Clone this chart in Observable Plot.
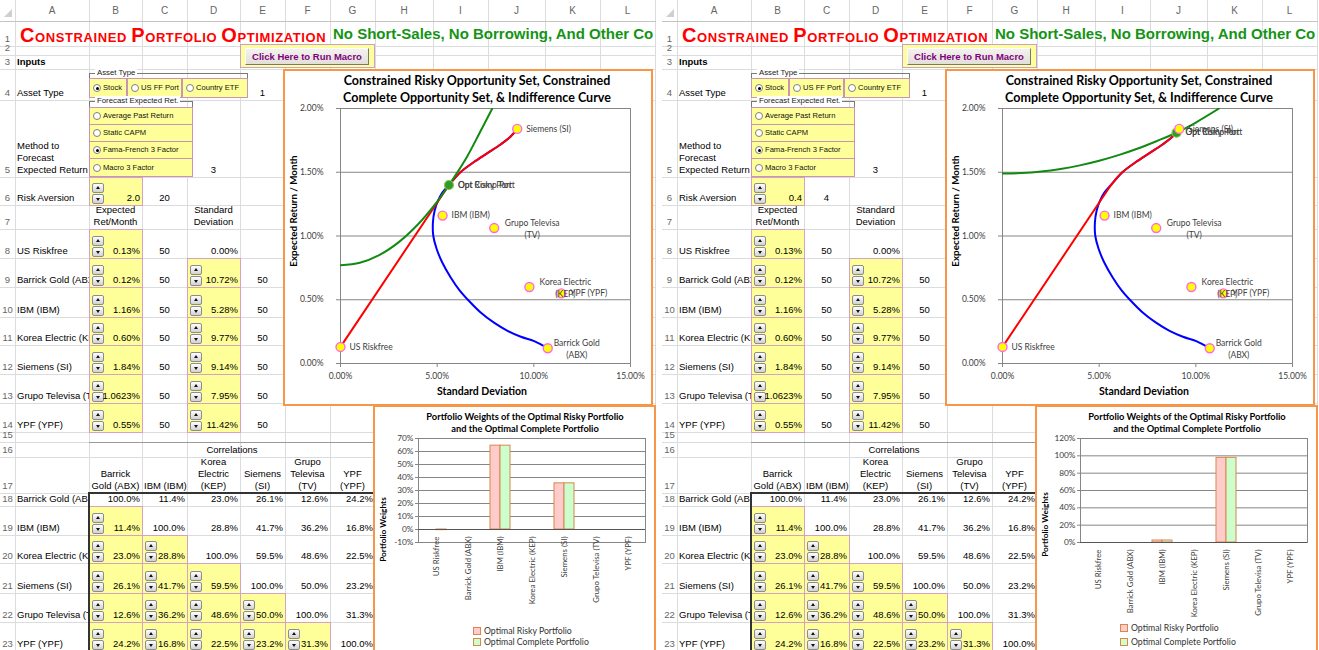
<!DOCTYPE html>
<html><head><meta charset="utf-8">
<script src="https://cdn.jsdelivr.net/npm/d3@7"></script>
<script src="https://cdn.jsdelivr.net/npm/@observablehq/plot@0.6"></script>
<style>
html,body{margin:0;padding:0;background:#fff}
body{width:1319px;height:650px;overflow:hidden;position:relative;font-family:"Liberation Sans",Arial,sans-serif}
.panel{position:absolute;top:0;height:650px;overflow:hidden;background:#fff}
.gv{position:absolute;width:1px;background:#dadcdd}
.gh{position:absolute;height:1px;background:#dadcdd}
.hdr{position:absolute;font-size:10px;color:#666;text-align:center;line-height:12px}
.rn{position:absolute;left:0;width:15px;font-size:9.5px;color:#666;text-align:center;display:flex;flex-direction:column;justify-content:flex-end;line-height:12px;box-sizing:border-box;padding-bottom:1px}
.cell{position:absolute;box-sizing:border-box;display:flex;flex-direction:column;justify-content:flex-end;font-size:9.5px;line-height:12px;color:#000;white-space:pre;padding:0 2px 1px 2px}
.yel{position:absolute;box-sizing:border-box;background:#ffff99;border:1px solid #d6a2c2}
.sp{position:absolute;width:12px;height:10px;box-sizing:border-box;border:1px solid #8c8c8c;border-radius:2px;background:linear-gradient(#fefefe,#d2d2d2)}
.sp::after{content:"";position:absolute;left:2.5px;width:0;height:0;border-left:2.5px solid transparent;border-right:2.5px solid transparent}
.sp.up::after{top:2px;border-bottom:3px solid #111}
.sp.dn::after{top:3px;border-top:3px solid #111}
.frame{position:absolute;box-sizing:border-box;border:1px solid #7a7a7a}
.flab{position:absolute;font-size:7.8px;line-height:10px;background:#fff;padding:0 2px;color:#222;white-space:nowrap}
.opt{position:absolute;box-sizing:border-box;background:#ffff99;border:1px solid #c896b4;font-size:7.6px;line-height:10px;white-space:nowrap;display:flex;align-items:center;padding-left:13px;color:#111;overflow:hidden}
.rb{position:absolute;left:3px;top:50%;margin-top:-4px;width:8px;height:8px;border-radius:50%;border:1px solid #808080;background:#fff;box-sizing:border-box}
.rb.on::after{content:"";position:absolute;left:1.5px;top:1.5px;width:3px;height:3px;border-radius:50%;background:#000}
.chartbox{position:absolute;box-sizing:border-box;border:2px solid #f79646;background:#fff;overflow:hidden}
.ct{position:absolute;text-align:center;font-family:Lato,"Open Sans",sans-serif;font-weight:bold;color:#000;white-space:pre}
.lg{position:absolute;font-family:Lato,"Open Sans",sans-serif;font-size:8.7px;line-height:10px;color:#333;white-space:nowrap}
.lg i{display:inline-block;width:6px;height:6px;border:1px solid #d9864f;margin-right:3px;vertical-align:-1px}
</style>
</head><body>
<script>
// ---------------- data ----------------
const assets = ["US Riskfree","Barrick Gold (ABX)","IBM (IBM)","Korea Electric (KEP)","Siemens (SI)","Grupo Televisa (TV)","YPF (YPF)"];
const expRetPct = [0.13,0.12,1.16,0.60,1.84,1.0623,0.55];
const stdDevPct = [0.00,10.72,5.28,9.77,9.14,7.95,11.42];
const expRetText = ["0.13%","0.12%","1.16%","0.60%","1.84%","1.0623%","0.55%"];
const stdDevText = ["0.00%","10.72%","5.28%","9.77%","9.14%","7.95%","11.42%"];
const expRetSpin = [50,50,50,50,50,50,50];
const stdDevSpin = [null,50,50,50,50,50,50];
const assetTypes = ["Stock","US FF Port","Country ETF"];
const assetTypeChoice = 1;
const forecastMethods = ["Average Past Return","Static CAPM","Fama-French 3 Factor","Macro 3 Factor"];
const forecastChoice = 3;
const riskAversionText = ["2.0","0.4"];
const riskAversionSpin = [20,4];
const corrHeaders = ["Barrick\nGold (ABX)","IBM (IBM)","Korea\nElectric\n(KEP)","Siemens\n(SI)","Grupo\nTelevisa\n(TV)","YPF\n(YPF)"];
const corrPct = [
  [100.0,11.4,23.0,26.1,12.6,24.2],
  [11.4,100.0,28.8,41.7,36.2,16.8],
  [23.0,28.8,100.0,59.5,48.6,22.5],
  [26.1,41.7,59.5,100.0,50.0,23.2],
  [12.6,36.2,48.6,50.0,100.0,31.3],
  [24.2,16.8,22.5,23.2,31.3,100.0]];
// constrained risky frontier (std dev %, expected return %), ABX -> Siemens
const frontierSD = [10.72,10.02,9.33,8.64,7.94,7.25,6.65,6.13,5.70,5.27,4.97,4.80,4.78,4.87,5.04,5.27,5.61,6.2,6.9,7.6,8.3,8.8,9.14];
const frontierER = [0.12,0.175,0.21,0.256,0.32,0.40,0.49,0.58,0.675,0.79,0.90,1.00,1.106,1.20,1.276,1.34,1.40,1.50,1.58,1.65,1.72,1.78,1.84];
const tangencyIndex = 16;
// indifference curves
const greenLeftSD = [0,1,2,3,4,5,5.61,6.5,7.2,7.85];
const greenLeftER = [0.77,0.79,0.85,0.95,1.09,1.27,1.40,1.61,1.81,2.0];
const greenRightSD = [0,1,2,3,4,5,6,7,8,9,10,11.2];
const greenRightER = [1.49,1.494,1.506,1.526,1.554,1.59,1.634,1.686,1.746,1.81,1.89,2.0];
const optLeft = [5.61,1.40];
const optRight = [9.0,1.81];
// portfolio weights (%)
const weightsRiskyLeft = [0,0,64.5,0,35.5,0,0];
const weightsCompleteLeft = [-0.5,0,64.5,0,35.5,0,0];
const weightsRiskyRight = [0,0,2.3,0,97.7,0,0];
const weightsCompleteRight = [0,0,2.3,0,97.7,0,0];
const weightTicksLeft = [-10,0,10,20,30,40,50,60,70];
const weightTicksRight = [0,20,40,60,80,100,120];
const retTicks = [0,0.5,1,1.5,2];
const sdTicks = [0,5,10,15];

// ---------------- layout ----------------
const colNames = ["A","B","C","D","E","F","G","H","I","J","K","L"];
const colEdges = [0,15,89,142,187,240,285,330,375,433,488,545,600,655];
const rowEdges = [0,21,46,55,69,100,177,205,229,258,287,317,345,374,403,432,442,457,493,506,535,563,593,622,651];
const L = c => colEdges[colNames.indexOf(c)+1];
const R = c => colEdges[colNames.indexOf(c)+2];
const T = r => rowEdges[r];
const B = r => rowEdges[r+1];
const px = v => v + "px";

function el(parent, cls, style, html){
  const d = document.createElement("div");
  if (cls) d.className = cls;
  Object.assign(d.style, style||{});
  if (html != null) d.innerHTML = html;
  parent.appendChild(d);
  return d;
}
function cellAt(p,x,y,w,h,text,o={}){
  const d = el(p,"cell",{left:px(x),top:px(y),width:px(w),height:px(h),textAlign:o.align||"left"});
  if (o.bold) d.style.fontWeight="bold";
  if (o.clip) d.style.overflow="hidden";
  d.textContent = text;
  return d;
}
function cell(p,c,r,text,o={}){
  const c2=o.c2||c, r2=o.r2||r;
  return cellAt(p,L(c),T(r),R(c2)-L(c),B(r2)-T(r),text,o);
}
function spinCell(p,c,r,text){
  const x=L(c), y=T(r), w=R(c)-x, h=B(r)-y;
  el(p,"yel",{left:px(x),top:px(y),width:px(w+1),height:px(h+1)});
  el(p,"sp up",{left:px(x+3),top:px(y+h-22)});
  el(p,"sp dn",{left:px(x+3),top:px(y+h-11)});
  cellAt(p,x,y,w,h,text,{align:"right"});
}

function bigChart(v){
  const pts = assets.map((name,i)=>({name, sd:stdDevPct[i], er:expRetPct[i]}));
  const frontier = frontierSD.map((sd,i)=>({sd, er:frontierER[i]}));
  const upper = frontier.slice(tangencyIndex);
  const cal = [{sd:stdDevPct[0], er:expRetPct[0]}, frontier[tangencyIndex]];
  const gSD = v ? greenRightSD : greenLeftSD, gER = v ? greenRightER : greenLeftER;
  const green = gSD.map((sd,i)=>({sd, er:gER[i]}));
  const o = v ? optRight : optLeft;
  const optPts = [{name:"Opt Risky Port", sd:o[0], er:o[1]},{name:"Opt Comp Port", sd:o[0], er:o[1]}];
  const wrapped = {"Grupo Televisa (TV)":["Grupo Televisa\n(TV)",38],"Korea Electric (KEP)":["Korea Electric\n(KEP)",36],"Barrick Gold (ABX)":["Barrick Gold\n(ABX)",29]};
  const single = pts.filter(d=>!wrapped[d.name]);
  const lab = {fill:"#404040", fontSize:8.5};
  return Plot.plot({
    width:366, height:333, marginLeft:55, marginRight:21, marginTop:37, marginBottom:41,
    style:{fontFamily:"Lato, 'Open Sans', sans-serif", fontSize:"8.5px", color:"#404040", background:"none"},
    x:{domain:[0,15], label:null},
    y:{domain:[0,2], label:null},
    marks:[
      Plot.gridY(retTicks.slice(1),{stroke:"#868686", strokeOpacity:1}),
      Plot.frame({stroke:"#868686"}),
      Plot.axisX(sdTicks,{tickFormat:d=>d.toFixed(2)+"%", tickSize:4, tickPadding:5, stroke:"#868686"}),
      Plot.axisY(retTicks,{tickFormat:d=>d.toFixed(2)+"%", tickSize:4, tickPadding:13, stroke:"#868686"}),
      Plot.line(frontier,{x:"sd", y:"er", stroke:"#0000ff", strokeWidth:2, curve:"catmull-rom"}),
      Plot.line(cal,{x:"sd", y:"er", stroke:"#ff0000", strokeWidth:2}),
      Plot.line(upper,{x:"sd", y:"er", stroke:"#ff0000", strokeWidth:2, curve:"catmull-rom"}),
      Plot.line(green,{x:"sd", y:"er", stroke:"#128a12", strokeWidth:2, curve:"catmull-rom", clip:true}),
      Plot.dot(optPts.slice(0,1),{x:"sd", y:"er", r:4.5, fill:"#2f9a2f", stroke:"#8cc63f", strokeWidth:1.2}),
      Plot.dot(pts,{x:"sd", y:"er", r:4.5, fill:"#ffff00", stroke:"#ff66ee", strokeWidth:1.4}),
      Plot.text(single,{x:"sd", y:"er", text:"name", dx:9, textAnchor:"start", ...lab}),
      Plot.text(optPts,{x:"sd", y:"er", text:"name", dx:9, textAnchor:"start", ...lab}),
      ...Object.entries(wrapped).map(([name,[t,dx]]) =>
        Plot.text(pts.filter(d=>d.name===name),{x:"sd", y:"er", text:()=>t, dx, textAnchor:"middle", lineHeight:1.45, ...lab}))
    ]
  });
}

function barChart(v){
  const risky = v ? weightsRiskyRight : weightsRiskyLeft;
  const complete = v ? weightsCompleteRight : weightsCompleteLeft;
  const ticks = v ? weightTicksRight : weightTicksLeft;
  const data = assets.map((cat,i)=>({cat, risky:risky[i], complete:complete[i]}));
  return Plot.plot({
    width:278, height:243, marginLeft:43, marginRight:8, marginTop:31, marginBottom:108,
    style:{fontFamily:"Lato, 'Open Sans', sans-serif", fontSize:"8.3px", color:"#404040", background:"none"},
    x:{domain:assets, padding:0, axis:null, label:null},
    y:{domain:[ticks[0], ticks[ticks.length-1]], label:null},
    marks:[
      Plot.gridY(ticks,{stroke:"#868686", strokeOpacity:1}),
      Plot.frame({stroke:"#868686"}),
      Plot.axisY(ticks,{tickFormat:d=>d+"%", tickSize:3, tickPadding:2, stroke:"#868686"}),
      Plot.barY(data.filter(d=>d.risky!==0),{x:"cat", y:"risky", fill:"#ffcccc", stroke:"#d9864f", insetLeft:6, insetRight:16}),
      Plot.barY(data.filter(d=>d.complete!==0),{x:"cat", y:"complete", fill:"#ccffcc", stroke:"#d9864f", insetLeft:16, insetRight:6}),
      Plot.ruleY([0],{stroke:"#555"}),
      Plot.text(data,{x:"cat", y:0, text:"cat", rotate:-90, textAnchor:"end", dy:7, fill:"#404040", fontSize:7.8})
    ]
  });
}

function buildPanel(p, v){
  // gridlines
  for (let i=1;i<colEdges.length;i++) el(p,"gv",{left:px(colEdges[i]),top:"0px",height:"651px"});
  for (let i=1;i<rowEdges.length;i++) el(p,"gh",{left:"0px",top:px(rowEdges[i]),width:"656px",background:i===1?"#c4c4c4":"#dadcdd"});
  el(p,"",{position:"absolute",left:"4px",top:"9px",width:"0",height:"0",borderLeft:"8px solid transparent",borderBottom:"8px solid #cfcfcf"});
  colNames.forEach(c=>el(p,"hdr",{left:px(L(c)),top:"5px",width:px(R(c)-L(c))},c));
  for (let r=1;r<=23;r++) el(p,"rn",{top:px(T(r)),height:px(B(r)-T(r))},String(r));

  // title row
  el(p,"",{position:"absolute",left:"20px",top:"25px",fontWeight:"bold",color:"#ff0000",fontSize:"13px",letterSpacing:"0.6px",whiteSpace:"nowrap",lineHeight:"20px"},
    '<span style="font-size:20px">C</span>ONSTRAINED <span style="font-size:20px">P</span>ORTFOLIO <span style="font-size:20px">O</span>PTIMIZATION');
  el(p,"",{position:"absolute",left:"333px",top:"25px",fontWeight:"bold",color:"#149414",fontSize:"15px",whiteSpace:"nowrap",lineHeight:"18px"},
    "No Short-Sales, No Borrowing, And Other Co");
  // macro button
  el(p,"",{position:"absolute",left:"240px",top:"44px",width:"135px",height:"24px",boxSizing:"border-box",background:"#ffff99",border:"1px solid #c8a0c8"});
  el(p,"",{position:"absolute",left:"245px",top:"48px",width:"124px",height:"17px",boxSizing:"border-box",background:"linear-gradient(#f4f2ee,#e2dfd8)",
    borderTop:"1px solid #fff",borderLeft:"1px solid #fff",borderRight:"1px solid #777",borderBottom:"1px solid #777",color:"#800080",fontWeight:"bold",fontSize:"9.5px",textAlign:"center",lineHeight:"15px"},
    "Click Here to Run Macro");

  cell(p,"A",3,"Inputs",{bold:true});
  cell(p,"A",4,"Asset Type",{clip:true});
  cell(p,"A",5,"Method to\nForecast\nExpected Return",{clip:true});
  cell(p,"A",6,"Risk Aversion",{clip:true});

  // asset type group
  el(p,"frame",{left:"89px",top:"73px",width:"159px",height:"25px"});
  el(p,"flab",{left:"95px",top:"68px"},"Asset Type");
  const atX = [[89,127],[127,182],[182,248]];
  assetTypes.forEach((t,i)=>{
    const d = el(p,"opt",{left:px(atX[i][0]),top:"78px",width:px(atX[i][1]-atX[i][0]),height:"20px"},t);
    el(d,"rb"+(i+1===assetTypeChoice?" on":""),{});
  });
  cell(p,"E",4,String(assetTypeChoice),{align:"center"});
  // forecast group
  el(p,"frame",{left:"89px",top:"101px",width:"104px",height:"76px"});
  el(p,"flab",{left:"95px",top:"96px"},"Forecast Expected Ret.");
  const fY = [107,124,141,158,176];
  forecastMethods.forEach((t,i)=>{
    const d = el(p,"opt",{left:"89px",top:px(fY[i]),width:"104px",height:px(fY[i+1]-fY[i]+1)},t);
    el(d,"rb"+(i+1===forecastChoice?" on":""),{});
  });
  cell(p,"D",5,String(forecastChoice),{align:"center"});

  spinCell(p,"B",6,riskAversionText[v]);
  cell(p,"C",6,String(riskAversionSpin[v]),{align:"center"});
  cell(p,"B",7,"Expected\nRet/Month",{align:"center"});
  cell(p,"D",7,"Standard\nDeviation",{align:"center"});

  assets.forEach((a,i)=>{
    const r = 8+i;
    cell(p,"A",r,a,{clip:true});
    spinCell(p,"B",r,expRetText[i]);
    cell(p,"C",r,String(expRetSpin[i]),{align:"center"});
    if (stdDevSpin[i]==null) cell(p,"D",r,stdDevText[i],{align:"right"});
    else { spinCell(p,"D",r,stdDevText[i]); cell(p,"E",r,String(stdDevSpin[i]),{align:"center"}); }
  });

  // correlations
  el(p,"",{position:"absolute",left:"89px",top:"442px",width:"287px",height:"1px",background:"#9a9a9a"});
  cell(p,"B",16,"Correlations",{c2:"G",align:"center"});
  const cc = ["B","C","D","E","F","G"];
  corrHeaders.forEach((h,j)=>cell(p,cc[j],17,h,{align:"center"}));
  corrPct.forEach((row,i)=>{
    const r = 18+i;
    cell(p,"A",r,assets[i+1],{clip:true});
    row.forEach((val,j)=>{
      const t = val.toFixed(1)+"%";
      if (j<i) spinCell(p,cc[j],r,t); else cell(p,cc[j],r,t,{align:"right"});
    });
  });
  el(p,"",{position:"absolute",left:"88px",top:"492px",width:"289px",height:"162px",boxSizing:"border-box",border:"2px solid #333"});

  // big chart
  const cb = el(p,"chartbox",{left:"283px",top:"69px",width:"370px",height:"337px"});
  const s1 = bigChart(v); s1.style.position="absolute"; s1.style.left="0"; s1.style.top="0"; cb.appendChild(s1);
  el(cb,"ct",{left:"-8px",width:"400px",top:"1px",fontSize:"12.5px",lineHeight:"17px"},"Constrained Risky Opportunity Set, Constrained\nComplete Opportunity Set, & Indifference Curve");
  el(cb,"ct",{left:"-52px",top:"134px",width:"120px",fontSize:"9.8px",lineHeight:"12px",transform:"rotate(-90deg)"},"Expected Return / Month");
  el(cb,"ct",{left:"97px",top:"314px",width:"200px",fontSize:"10.5px",lineHeight:"13px"},"Standard Deviation");

  // bar chart
  const bb = el(p,"chartbox",{left:"373px",top:"405px",width:"283px",height:"250px"});
  const s2 = barChart(v); s2.style.position="absolute"; s2.style.left="0"; s2.style.top="0"; bb.appendChild(s2);
  el(bb,"ct",{left:"0px",width:"300px",top:"4px",fontSize:"9.3px",lineHeight:"12px"},"Portfolio Weights of the Optimal Risky Portfolio\nand the Optimal Complete Portfolio");
  el(bb,"ct",{left:"-42px",top:(v?112:117)+"px",width:"100px",fontSize:"8.3px",lineHeight:"11px",transform:"rotate(-90deg)"},"Portfolio Weights");
  const lx = v ? 83 : 98, ly = v ? [216,230] : [219,230];
  el(bb,"lg",{left:px(lx),top:px(ly[0])},'<i style="background:#ffcccc"></i>Optimal Risky Portfolio');
  el(bb,"lg",{left:px(lx),top:px(ly[1])},'<i style="background:#ccffcc"></i>Optimal Complete Portfolio');
}

const left = el(document.body,"panel",{left:"0px",width:"658px"});
const right = el(document.body,"panel",{left:"662px",width:"657px"});
buildPanel(left,0);
buildPanel(right,1);
</script>
</body></html>
